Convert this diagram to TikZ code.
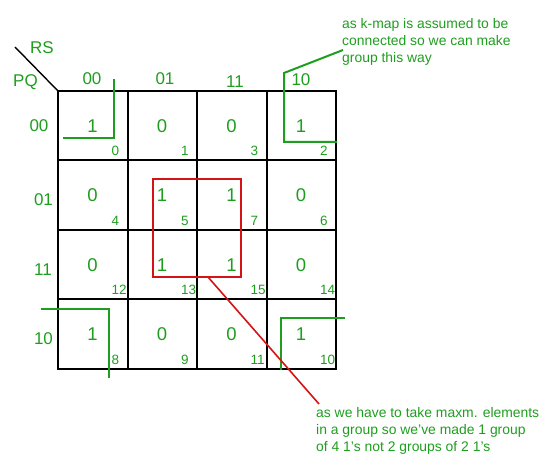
\documentclass[tikz,border=0pt]{standalone}
\usepackage{fontspec}
\setmainfont{Liberation Sans}
\definecolor{kgreen}{RGB}{30,158,30}
\definecolor{kred}{RGB}{212,20,20}
\begin{document}
\begin{tikzpicture}[x=1pt,y=-1pt,
  gridline/.style={line width=2pt, black, line cap=rect},
  grp/.style={line width=2pt, kgreen},
  redgrp/.style={line width=1.6pt, kred},
  hdr/.style={text=kgreen, font=\fontsize{17}{17}\selectfont, inner sep=0},
  val/.style={text=kgreen, font=\fontsize{18.5}{18.5}\selectfont, inner sep=0},
  idx/.style={text=kgreen, font=\fontsize{13.5}{14}\selectfont, inner sep=0, anchor=west},
  note/.style={text=kgreen, inner sep=0, anchor=base west, font=\fontsize{13.9}{17}\selectfont}]
\useasboundingbox (0,0) rectangle (547,473);
% grid
\foreach \xx in {58,128,197,267,336} {
  \draw[gridline] (\xx,91) -- (\xx,369);
}
\foreach \yy in {91,160,230,299,369} {
  \draw[gridline] (58,\yy) -- (336,\yy);
}
\coordinate (corner) at (58,91);
\coordinate (diagstart) at (15,47);
\draw[line width=1.4pt] (diagstart) -- (corner);
\node[hdr] (RS) at (42,48) {RS};
\node[hdr] (PQ) at (25.5,82) {PQ};
% column headers
\node[hdr] (c00) at (92,79) {00};
\node[hdr] (c01) at (165,79) {01};
\node[hdr] (c11) at (235,81.5) {11};
\node[hdr] (c10) at (301,79.5) {10};
% row headers
\node[hdr] (r00) at (39,126) {00};
\node[hdr] (r01) at (43.5,199.5) {01};
\node[hdr] (r11) at (43,269.5) {11};
\node[hdr] (r10) at (43.5,339) {10};
% cells
\foreach \v/\n [count=\k from 0] in {1/0,0/1,0/3,1/2, 0/4,1/5,1/7,0/6, 0/12,1/13,1/15,0/14, 1/8,0/9,0/11,1/10} {
  \pgfmathtruncatemacro{\row}{\k/4}
  \pgfmathtruncatemacro{\col}{mod(\k,4)}
  \node[val] (val-\n) at ({58+69.5*\col+34.5},{91+69.5*\row+35}) {\v};
  \node[idx] (idx-\n) at ({58+69.5*\col+53.5},{91+69.5*\row+60}) {\n};
}
% green group: cell 0
\coordinate (g0a) at (63,138);
\coordinate (g0b) at (114,138);
\coordinate (g0c) at (114,79);
\draw[grp] (g0a) -- (g0b) -- (g0c);
% green group: cell 2 with pointer to note
\coordinate (g2a) at (337,142);
\coordinate (g2b) at (284,142);
\coordinate (g2c) at (284,73);
\coordinate (g2d) at (343,50);
\draw[grp] (g2a) -- (g2b) -- (g2c) -- (g2d);
% green group: cell 8
\coordinate (g8a) at (41,309);
\coordinate (g8b) at (109,309);
\coordinate (g8c) at (109,378);
\draw[grp] (g8a) -- (g8b) -- (g8c);
% green group: cell 10
\coordinate (g10a) at (281,370);
\coordinate (g10b) at (281,318);
\coordinate (g10c) at (345,318);
\draw[grp] (g10a) -- (g10b) -- (g10c);
% red quad
\draw[redgrp] (153,179) rectangle (241,277);
\coordinate (redfoot) at (208,277);
\coordinate (redend) at (319,404);
\draw[redgrp] (redfoot) -- (redend);
% notes
\node[note] (note1) at (342,28.5) {\begin{tabular}[t]{@{}l@{}}as k-map is assumed to be\\connected so we can make\\group this way\end{tabular}};
\node[note] (note2) at (316,418) {\begin{tabular}[t]{@{}l@{}}as we have to take maxm. elements\\in a group so we've made 1 group\\of 4 1's not 2 groups of 2 1's\end{tabular}};
\end{tikzpicture}
\end{document}
